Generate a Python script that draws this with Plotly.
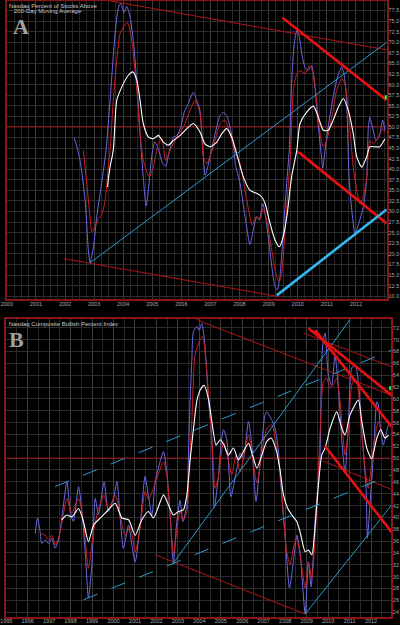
import plotly.graph_objects as go

# ---------------- Panel A: Nasdaq % of stocks above 200-day MA ----------------
A_BLUE_T = [2002.31, 2002.40, 2002.52, 2002.69, 2002.80, 2002.86, 2002.98, 2003.09, 2003.26, 2003.41,
            2003.55, 2003.72, 2003.84, 2003.92, 2004.03, 2004.12, 2004.24, 2004.36, 2004.47, 2004.58,
            2004.69, 2004.79, 2004.88, 2004.98, 2005.08, 2005.20, 2005.35, 2005.46, 2005.58, 2005.72,
            2005.85, 2005.98, 2006.10, 2006.24, 2006.41, 2006.53, 2006.64, 2006.82, 2006.99, 2007.16,
            2007.33, 2007.44, 2007.56, 2007.67, 2007.79, 2007.85, 2008.02, 2008.19, 2008.36, 2008.47,
            2008.59, 2008.68, 2008.80, 2008.88, 2008.99, 2009.11, 2009.22, 2009.30, 2009.39, 2009.50,
            2009.62, 2009.71, 2009.79, 2009.88, 2009.97, 2010.06, 2010.14, 2010.25, 2010.36, 2010.48,
            2010.59, 2010.71, 2010.82, 2010.86, 2010.94, 2011.05, 2011.22, 2011.40, 2011.51, 2011.59,
            2011.68, 2011.77, 2011.86, 2011.97, 2012.08, 2012.25, 2012.37, 2012.43, 2012.48, 2012.57,
            2012.69, 2012.80, 2012.92, 2013.00]
A_BLUE_V = [47.5, 45.5, 42.0, 32.7, 21.0, 17.9, 21.7, 28.8, 36.7, 44.5,
            56.3, 72.0, 78.3, 79.2, 77.0, 78.5, 75.9, 69.6, 60.2, 48.4,
            38.0, 31.3, 36.0, 43.0, 46.5, 45.0, 41.5, 40.7, 44.0, 47.5,
            48.0, 50.0, 53.5, 55.5, 58.2, 56.3, 53.9, 38.6, 43.0, 48.4,
            52.7, 53.4, 52.7, 50.0, 46.0, 41.3, 36.6, 28.8, 22.2, 25.6,
            28.8, 28.0, 31.9, 29.5, 24.0, 17.0, 12.2, 11.5, 14.6, 24.8,
            36.6, 44.5, 60.2, 69.6, 72.8, 71.2, 67.3, 64.1, 63.3, 64.5,
            59.4, 50.0, 42.9, 40.2, 44.5, 50.0, 57.1, 62.6, 64.1, 62.6,
            56.3, 37.5, 30.3, 24.8, 26.8, 30.9, 37.5, 50.0, 52.3, 50.0,
            46.9, 47.7, 51.6, 49.2]

A_RED_T = [2002.63, 2002.75, 2002.86, 2002.92, 2003.03, 2003.15, 2003.26, 2003.38, 2003.49, 2003.55,
           2003.66, 2003.78, 2003.89, 2004.01, 2004.14, 2004.26, 2004.35, 2004.47, 2004.58, 2004.69,
           2004.90, 2005.04, 2005.21, 2005.33, 2005.46, 2005.61, 2005.84, 2006.07, 2006.30, 2006.47,
           2006.64, 2006.76, 2006.87, 2007.10, 2007.33, 2007.50, 2007.67, 2007.79, 2008.02, 2008.25,
           2008.44, 2008.57, 2008.68, 2008.82, 2008.93, 2009.11, 2009.25, 2009.36, 2009.45, 2009.56,
           2009.68, 2009.76, 2009.85, 2009.97, 2010.08, 2010.25, 2010.42, 2010.54, 2010.65, 2010.77,
           2010.88, 2011.00, 2011.17, 2011.34, 2011.51, 2011.62, 2011.74, 2011.91, 2012.03, 2012.14,
           2012.25, 2012.37, 2012.48, 2012.60, 2012.77, 2012.92, 2013.00]
A_RED_V = [44.5, 36.6, 28.8, 25.2, 26.4, 28.4, 29.2, 32.7, 40.6, 44.5,
           56.3, 65.7, 72.0, 73.6, 74.7, 72.0, 67.3, 58.6, 48.4, 42.1,
           38.2, 40.6, 46.1, 47.2, 42.1, 44.5, 47.6, 50.0, 53.9, 56.3,
           53.2, 42.9, 41.3, 45.3, 50.8, 51.6, 48.4, 45.3, 41.3, 32.7,
           26.8, 28.8, 28.0, 30.7, 28.0, 20.9, 15.4, 13.4, 15.4, 24.8,
           36.6, 44.5, 58.6, 62.6, 63.3, 62.6, 64.5, 62.6, 56.3, 48.4,
           45.3, 46.9, 52.3, 58.6, 61.4, 60.2, 53.9, 40.5, 35.0, 31.9,
           33.5, 37.7, 46.8, 46.0, 47.6, 49.6, 48.8]

A_WHITE_T = [2003.46, 2003.55, 2003.66, 2003.78, 2003.95, 2004.18, 2004.33, 2004.47, 2004.58, 2004.69,
             2004.87, 2005.04, 2005.21, 2005.38, 2005.55, 2005.73, 2005.96, 2006.19, 2006.41, 2006.64,
             2006.81, 2006.99, 2007.22, 2007.39, 2007.56, 2007.73, 2007.90, 2008.13, 2008.36, 2008.59,
             2008.76, 2008.88, 2009.05, 2009.22, 2009.37, 2009.50, 2009.64, 2009.79, 2009.97, 2010.08,
             2010.31, 2010.54, 2010.71, 2010.88, 2011.05, 2011.22, 2011.40, 2011.57, 2011.74, 2011.91,
             2012.03, 2012.20, 2012.37, 2012.48, 2012.65, 2012.82, 2013.00]
A_WHITE_V = [35.8, 40.6, 44.5, 56.3, 59.4, 62.2, 63.0, 61.0, 56.3, 50.8,
             47.6, 47.2, 48.0, 46.4, 45.7, 46.8, 48.0, 49.6, 50.8, 48.8,
             46.0, 45.3, 46.4, 48.4, 49.6, 47.6, 43.7, 38.2, 35.0, 34.3,
             33.5, 31.9, 27.2, 23.3, 21.7, 24.0, 29.5, 38.2, 44.5, 50.8,
             53.5, 54.9, 52.3, 49.2, 49.2, 51.6, 54.7, 56.7, 53.9, 48.4,
             42.9, 40.5, 42.9, 45.3, 45.3, 45.3, 47.2]

# trend lines (start date, start level, end date, end level)
A_THIN_RED = [(2003.44, 79.9, 2013.06, 68.2), (2001.94, 18.9, 2009.36, 9.9)]
A_THIN_BLUE = [(2002.86, 17.9, 2013.06, 70.0)]
A_THICK_RED = [(2009.48, 75.8, 2013.06, 56.3), (2010.02, 44.1, 2013.06, 27.2)]
A_THICK_BLUE = [(2009.28, 10.2, 2013.06, 30.5)]
A_LAST = 57.0

# ---------------- Panel B: Nasdaq Composite Bullish Percent Index ----------------
B_BLUE_T = [1996.35, 1996.46, 1996.58, 1996.66, 1996.82, 1996.97, 1997.13, 1997.28, 1997.44, 1997.59,
            1997.83, 1997.98, 1998.13, 1998.37, 1998.53, 1998.68, 1998.83, 1998.99, 1999.15, 1999.30,
            1999.56, 1999.76, 2000.00, 2000.16, 2000.31, 2000.46, 2000.70, 2000.85, 2001.01, 2001.24,
            2001.47, 2001.63, 2001.79, 2001.94, 2002.17, 2002.33, 2002.48, 2002.64, 2002.79, 2002.95,
            2003.10, 2003.23, 2003.42, 2003.49, 2003.57, 2003.65, 2003.72, 2003.88, 2003.99, 2004.12,
            2004.27, 2004.42, 2004.58, 2004.70, 2004.87, 2005.04, 2005.12, 2005.28, 2005.47, 2005.75,
            2005.90, 2006.05, 2006.29, 2006.45, 2006.64, 2006.85, 2007.06, 2007.14, 2007.38, 2007.53,
            2007.68, 2007.76, 2007.99, 2008.20, 2008.38, 2008.54, 2008.69, 2008.93, 2009.08, 2009.21,
            2009.39, 2009.62, 2009.70, 2009.78, 2009.86, 2010.01, 2010.17, 2010.32, 2010.48, 2010.64,
            2010.79, 2010.94, 2011.10, 2011.26, 2011.41, 2011.57, 2011.77, 2011.83, 2011.95, 2012.11,
            2012.27, 2012.34, 2012.42, 2012.57, 2012.73, 2012.81]
B_BLUE_V = [37.3, 39.9, 37.6, 35.6, 36.2, 35.6, 36.5, 34.8, 36.2, 39.9,
            46.0, 41.0, 39.3, 45.2, 41.0, 34.2, 26.4, 32.0, 43.2, 40.4,
            46.0, 41.0, 43.2, 46.0, 39.9, 34.8, 38.7, 35.4, 32.5, 38.7,
            46.9, 43.5, 40.4, 46.0, 49.4, 51.1, 47.7, 40.4, 32.3, 39.3,
            42.9, 39.3, 42.1, 50.5, 59.8, 66.6, 71.3, 72.2, 71.6, 72.7,
            68.5, 60.1, 53.1, 41.7, 46.3, 53.4, 54.8, 53.1, 43.5, 48.3,
            50.9, 50.0, 56.2, 52.0, 42.7, 50.0, 57.3, 57.8, 56.4, 55.0,
            51.4, 47.2, 37.0, 28.1, 32.5, 37.0, 34.2, 23.7, 32.5, 28.3,
            39.3, 50.5, 66.6, 70.0, 71.1, 64.0, 62.3, 67.4, 61.8, 52.8,
            47.5, 55.6, 65.2, 65.7, 62.9, 54.5, 44.9, 36.5, 42.1, 50.5,
            59.5, 59.0, 55.6, 52.2, 54.5, 55.6]

B_RED_T = [1996.58, 1996.82, 1996.97, 1997.13, 1997.28, 1997.44, 1997.59, 1997.83, 1998.06, 1998.37,
           1998.60, 1998.83, 1999.07, 1999.30, 1999.56, 1999.76, 2000.08, 2000.31, 2000.54, 2000.78,
           2001.01, 2001.24, 2001.47, 2001.63, 2001.86, 2002.08, 2002.33, 2002.48, 2002.64, 2002.79,
           2002.95, 2003.10, 2003.26, 2003.42, 2003.52, 2003.65, 2003.80, 2004.04, 2004.16, 2004.32,
           2004.50, 2004.64, 2004.73, 2004.87, 2005.12, 2005.29, 2005.51, 2005.71, 2005.90, 2006.29,
           2006.46, 2006.68, 2006.91, 2007.14, 2007.38, 2007.58, 2007.76, 2008.07, 2008.23, 2008.38,
           2008.54, 2008.69, 2008.93, 2009.08, 2009.24, 2009.39, 2009.53, 2009.67, 2009.78, 2009.94,
           2010.09, 2010.24, 2010.40, 2010.56, 2010.79, 2010.94, 2011.15, 2011.33, 2011.52, 2011.72,
           2011.87, 2012.11, 2012.34, 2012.50, 2012.65, 2012.81]
B_RED_V = [37.3, 37.0, 36.2, 37.0, 35.4, 36.5, 39.0, 43.2, 40.7, 43.2,
           39.3, 31.4, 37.6, 41.5, 43.8, 41.3, 43.8, 40.4, 37.0, 38.4,
           34.2, 38.2, 44.4, 43.0, 44.9, 47.2, 49.4, 47.2, 40.4, 33.7,
           37.9, 41.0, 39.6, 41.0, 48.0, 56.4, 67.4, 70.0, 70.5, 65.7,
           57.3, 49.7, 44.9, 46.6, 52.8, 50.5, 47.2, 50.5, 47.7, 53.9,
           50.5, 45.8, 50.5, 55.0, 55.6, 52.2, 47.7, 34.2, 32.0, 34.8,
           36.5, 33.7, 28.1, 32.5, 29.7, 36.5, 46.3, 57.8, 62.9, 63.5,
           61.8, 62.3, 63.5, 59.5, 50.5, 54.5, 62.9, 62.9, 56.2, 48.3,
           44.9, 51.7, 56.2, 54.5, 53.4, 53.9]

B_WHITE_T = [1997.59, 1997.83, 1998.06, 1998.37, 1998.60, 1998.83, 1999.07, 1999.38, 1999.69, 2000.08,
             2000.39, 2000.70, 2001.01, 2001.32, 2001.63, 2001.86, 2002.33, 2002.56, 2002.79, 2003.03,
             2003.26, 2003.42, 2003.57, 2003.72, 2003.88, 2004.04, 2004.22, 2004.42, 2004.58, 2004.78,
             2004.97, 2005.15, 2005.35, 2005.59, 2005.82, 2006.04, 2006.29, 2006.48, 2006.68, 2006.91,
             2007.14, 2007.34, 2007.58, 2007.76, 2007.92, 2008.11, 2008.31, 2008.54, 2008.69, 2008.93,
             2009.08, 2009.24, 2009.47, 2009.70, 2009.86, 2010.09, 2010.40, 2010.64, 2010.79, 2011.02,
             2011.41, 2011.57, 2011.80, 2012.03, 2012.27, 2012.45, 2012.65, 2012.81]
B_WHITE_V = [39.6, 40.4, 40.1, 41.5, 39.3, 35.9, 38.7, 39.9, 41.0, 42.4,
             39.9, 39.6, 37.0, 39.6, 41.0, 39.9, 43.8, 42.1, 40.4, 41.0,
             41.3, 43.8, 49.7, 54.8, 59.6, 61.5, 62.3, 60.1, 56.2, 52.2,
             53.1, 52.2, 50.5, 51.7, 49.7, 51.0, 52.5, 50.5, 48.3, 50.5,
             52.8, 53.4, 51.4, 48.0, 43.8, 41.6, 40.4, 39.3, 37.6, 34.2,
             34.5, 33.7, 42.1, 50.5, 51.7, 55.0, 57.8, 55.0, 53.9, 57.3,
             59.8, 56.2, 51.7, 49.9, 53.4, 54.8, 53.4, 53.9]

B_THIN_RED = [(2004.11, 73.0, 2012.96, 60.6), (2008.85, 71.1, 2012.96, 65.4),
              (2009.78, 49.5, 2012.96, 44.7), (2001.94, 33.7, 2008.93, 23.7),
              (2003.80, 73.6, 2004.11, 73.0)]
B_DASH_BLUE = [(1997.28, 45.2, 2012.96, 68.2), (1998.60, 26.1, 2012.96, 47.2)]
B_THIN_BLUE = [(2002.79, 32.3, 2011.02, 73.4), (2008.93, 23.7, 2012.96, 42.1)]
B_THICK_RED = [(2009.08, 71.9, 2012.96, 60.6), (2009.39, 71.6, 2012.96, 55.3),
               (2009.86, 52.0, 2012.96, 37.5)]
B_LAST = 61.8

A_YEARS = list(range(2000, 2013))
B_YEARS = list(range(1995, 2013))

BG = "#000000"
GRID_MAJOR = "#3e3e3e"
GRID_MINOR = "#262626"
GRID_Y = "#2c2c2c"
FRAME = "#8a1515"
TICK = "#a8a8a8"
BLUE = "#6a6ae6"
RED = "#cc2020"
WHITE = "#ffffff"

fig = go.Figure()


def series(t, v, color, width, xa, ya):
    fig.add_trace(go.Scatter(
        x=t, y=v, mode="lines", xaxis=xa, yaxis=ya,
        line=dict(color=color, width=width, shape="spline", smoothing=0.6),
        hoverinfo="skip", showlegend=False,
    ))


def trend(lines, color, width, xa, ya, dash="solid"):
    for x0, y0, x1, y1 in lines:
        fig.add_trace(go.Scatter(
            x=[x0, x1], y=[y0, y1], mode="lines", xaxis=xa, yaxis=ya,
            line=dict(color=color, width=width, dash=dash),
            hoverinfo="skip", showlegend=False,
        ))


def last_mark(x, y, xa, ya):
    fig.add_trace(go.Scatter(x=[x], y=[y], mode="markers", xaxis=xa, yaxis=ya,
                             marker=dict(symbol="square", size=4, color="#33dd33"),
                             cliponaxis=False, hoverinfo="skip", showlegend=False))


# panel A
fig.add_trace(go.Scatter(x=[2000, 2013.06], y=[50, 50], mode="lines", xaxis="x", yaxis="y",
                         line=dict(color="#a01818", width=1), hoverinfo="skip", showlegend=False))
series(A_BLUE_T, A_BLUE_V, BLUE, 1, "x", "y")
series(A_RED_T, A_RED_V, RED, 1, "x", "y")
series(A_WHITE_T, A_WHITE_V, WHITE, 1.1, "x", "y")
trend(A_THIN_RED, "#b01515", 1, "x", "y")
trend(A_THIN_BLUE, "#2a9ccc", 1, "x", "y")
trend(A_THICK_RED, "#e81010", 2.6, "x", "y")
trend(A_THICK_BLUE, "#35b8f0", 2.6, "x", "y")
last_mark(2013.06, A_LAST, "x", "y")

# panel B
fig.add_trace(go.Scatter(x=[1995, 2012.96], y=[50, 50], mode="lines", xaxis="x2", yaxis="y2",
                         line=dict(color="#a01818", width=1), hoverinfo="skip", showlegend=False))
series(B_BLUE_T, B_BLUE_V, BLUE, 1, "x2", "y2")
series(B_RED_T, B_RED_V, RED, 1, "x2", "y2")
series(B_WHITE_T, B_WHITE_V, WHITE, 1.1, "x2", "y2")
trend(B_THIN_RED, "#b01515", 1, "x2", "y2")
trend(B_DASH_BLUE, "#2a9ccc", 1, "x2", "y2", dash="longdash")
trend(B_THIN_BLUE, "#2a9ccc", 1, "x2", "y2")
trend(B_THICK_RED, "#e81010", 2.6, "x2", "y2")
last_mark(2012.93, B_LAST, "x2", "y2")

tickfont = dict(family="Liberation Sans, Arial", size=5.5, color=TICK)
frame = dict(showline=True, linecolor=FRAME, linewidth=1.5, mirror=True,
             zeroline=False, showgrid=True, gridwidth=1,
             ticks="", tickfont=tickfont, automargin=False, fixedrange=True)

fig.update_layout(
    width=400, height=625,
    margin=dict(l=0, r=0, t=0, b=0),
    paper_bgcolor=BG, plot_bgcolor=BG,
    showlegend=False,
    xaxis=dict(domain=[0.01675, 0.96675], range=[1999.995, 2013.06], anchor="y",
               tickvals=A_YEARS, ticktext=[str(y) for y in A_YEARS],
               gridcolor=GRID_MAJOR, ticklabelstandoff=-1,
               minor=dict(tick0=2000, dtick=0.25, showgrid=True, gridcolor=GRID_MINOR),
               **frame),
    yaxis=dict(domain=[0.5224, 0.9992], range=[9.46, 79.86], anchor="x", side="right",
               tick0=0, dtick=2.5, tickformat=".1f", gridcolor=GRID_Y, ticklabelstandoff=-1,
               **frame),
    xaxis2=dict(domain=[0.015, 0.9775], range=[1994.99, 2012.93], anchor="y2",
                tickvals=B_YEARS, ticktext=[str(y) for y in B_YEARS],
                gridcolor=GRID_MAJOR, ticklabelstandoff=-2,
                minor=dict(tick0=1995, dtick=0.5, showgrid=True, gridcolor=GRID_MINOR),
                **frame),
    yaxis2=dict(domain=[0.0128, 0.4891], range=[23.2, 73.42], anchor="x2", side="right",
                tick0=0, dtick=2, gridcolor=GRID_Y, ticklabelstandoff=-1, **frame),
)

label_font = dict(family="Liberation Sans, Arial", size=6, color="#c8c8c8")
big_font = dict(family="Liberation Serif, DejaVu Serif", size=22, color="#a0a0a0")

fig.add_annotation(text="Nasdaq Percent of Stocks Above", xref="paper", yref="paper",
                   x=7 / 400, y=1 - 0.5 / 625, xanchor="left", yanchor="top",
                   showarrow=False, font=label_font)
fig.add_annotation(text="200-Day Moving Average", xref="paper", yref="paper",
                   x=84 / 400, y=1 - 6 / 625, xanchor="right", yanchor="top",
                   showarrow=False, font=label_font)
fig.add_annotation(text="<b>A</b>", xref="paper", yref="paper",
                   x=11 / 400, y=1 - 12 / 625, xanchor="left", yanchor="top",
                   showarrow=False, font=big_font)
fig.add_annotation(text="Nasdaq Composite Bullish Percent Index", xref="paper", yref="paper",
                   x=7 / 400, y=1 - 319 / 625, xanchor="left", yanchor="top",
                   showarrow=False, font=label_font)
fig.add_annotation(text="<b>B</b>", xref="paper", yref="paper",
                   x=7 / 400, y=1 - 325 / 625, xanchor="left", yanchor="top",
                   showarrow=False, font=big_font)

# the page body has a default 8px margin; drop it so the 400x625 figure fills the window
fig.write_html("out.html", config={"displayModeBar": False},
               post_script="document.body.style.margin='0';")
